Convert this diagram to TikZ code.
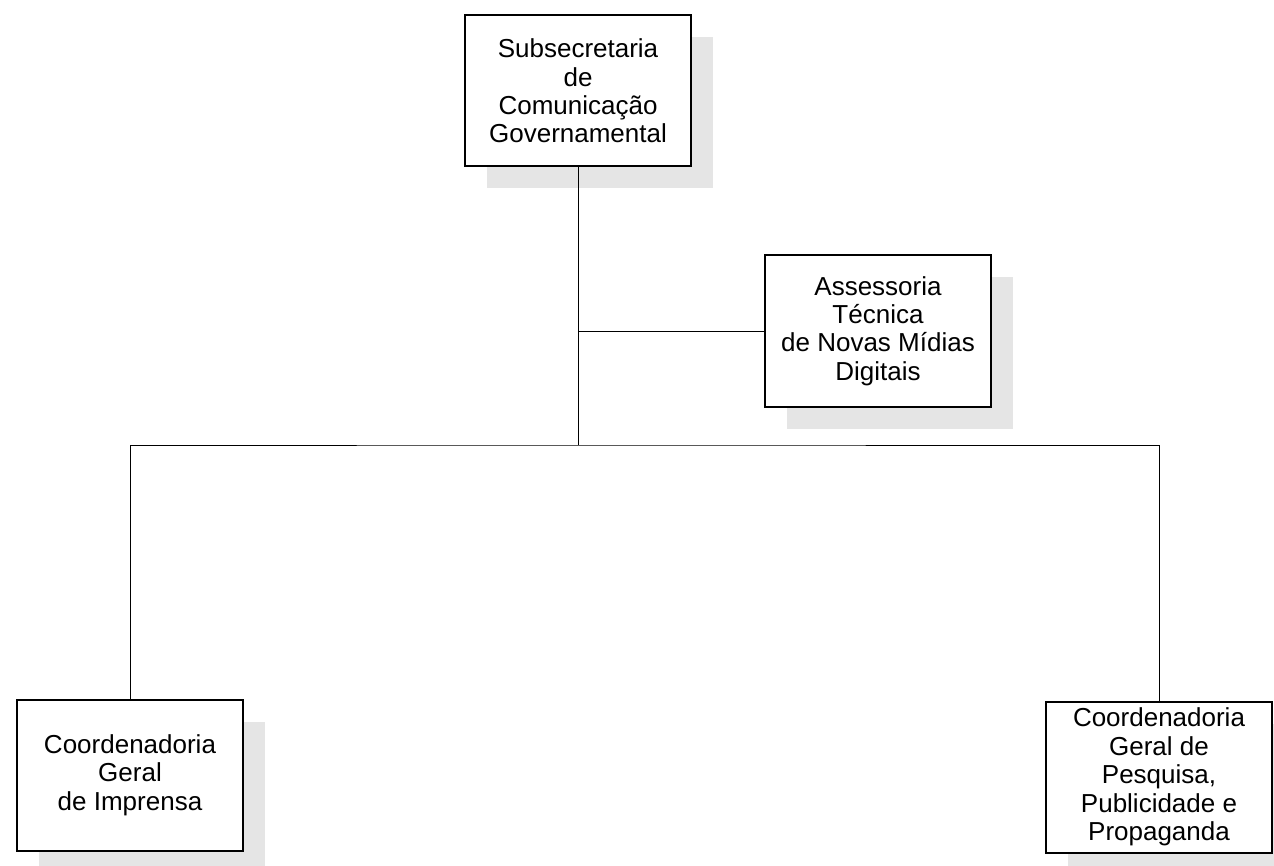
\documentclass[tikz,border=0pt]{standalone}
\usepackage{fontspec}
\setmainfont{Liberation Sans}
\usetikzlibrary{shadows}

\begin{document}
\begin{tikzpicture}[x=0.5pt, y=-0.5pt,
    unit/.style={draw, line width=1pt, fill=white, align=center, inner sep=0pt,
      minimum width=113pt, minimum height=75.5pt,
      font=\fontsize{13}{14.2}\selectfont,
      drop shadow={shadow xshift=11pt, shadow yshift=-11pt, fill=black!10, opacity=1}},
    link/.style={line width=0.5pt}]
    \useasboundingbox (0,0) rectangle (1274,866);

    % Define positions of the units
    \node[unit] (subsec) at (578,91) {Subsecretaria\\de\\Comunicação\\Governamental};
    \node[unit] (assess) at (878,331) {Assessoria\\Técnica\\de Novas Mídias\\Digitais};
    \node[unit] (imprensa) at (130,775) {Coordenadoria\\Geral\\de Imprensa};
    \node[unit] (pesquisa) at (1159,777) {Coordenadoria\\Geral de\\Pesquisa,\\Publicidade e\\Propaganda};
    \coordinate (hub) at (578,445);

    % draw the links
    \draw[link] (subsec.south) -- (hub);
    \draw[link] (assess.west) -- (assess.west -| subsec.south);
    \draw[link] (imprensa.north) |- (hub) -| (pesquisa.north);
\end{tikzpicture}
\end{document}
